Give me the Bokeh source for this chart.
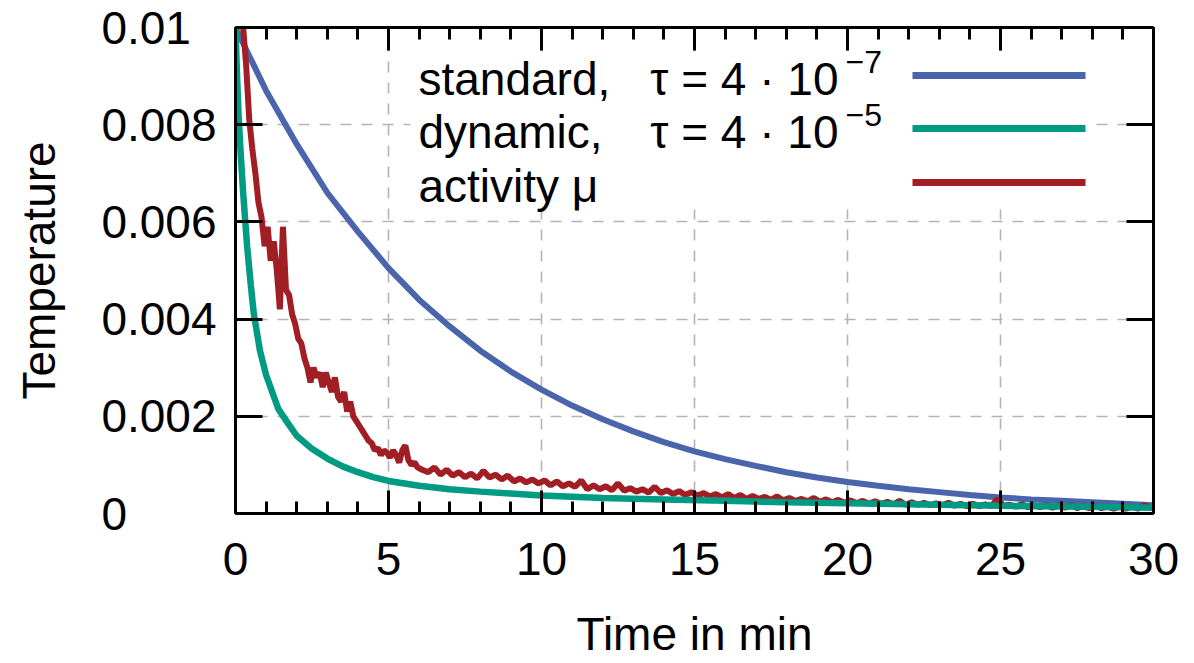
from bokeh.plotting import figure
from bokeh.models import (Range1d, LinearAxis, SingleIntervalTicker, FixedTicker,
                          Label, BoxAnnotation)
from bokeh.embed import file_html
from bokeh.resources import INLINE

# ---------------- data ----------------
std_t = list(range(31))
std_T = [10.0, 8.7, 7.6, 6.6, 5.8, 5.05, 4.4, 3.85, 3.35, 2.92, 2.55, 2.22, 1.94,
         1.69, 1.47, 1.28, 1.12, 0.98, 0.85, 0.74, 0.65, 0.57, 0.5, 0.44, 0.38,
         0.33, 0.29, 0.26, 0.23, 0.2, 0.17]

dyn_t = [0, 0.05, 0.1, 0.17, 0.25, 0.38, 0.5, 0.6, 0.8, 1.0, 1.2, 1.4, 1.7, 2.0,
         2.5, 3.0, 3.5, 4.0, 4.5, 5.0, 6.0, 7.0, 8.0, 9.0, 10.0, 12.0, 14.0, 16.0,
         18.0, 20.0, 22.0, 25.0, 28.0, 30.0]
dyn_T = [10.0, 9.0, 8.2, 7.4, 6.6, 5.5, 4.7, 4.1, 3.35, 2.85, 2.5, 2.15, 1.87,
         1.6, 1.33, 1.13, 0.97, 0.85, 0.75, 0.67, 0.57, 0.5, 0.45, 0.41, 0.37,
         0.32, 0.29, 0.26, 0.23, 0.21, 0.19, 0.16, 0.14, 0.12]

act_t = [0.25, 0.35, 0.45, 0.55, 0.65, 0.75, 0.85, 0.95, 1.05, 1.15, 1.25, 1.35,
         1.45, 1.55, 1.65, 1.75, 1.85, 1.95, 2.05, 2.15, 2.25, 2.35, 2.45, 2.55,
         2.65, 2.75, 2.85, 2.95, 3.05, 3.15, 3.25, 3.35, 3.45, 3.55, 3.65, 3.75,
         3.85, 3.95, 4.05, 4.15, 4.25, 4.35, 4.45, 4.55, 4.65, 4.75, 4.85, 4.95,
         5.05, 5.15, 5.25, 5.35, 5.45, 5.55, 5.65, 5.75, 5.85, 5.95,
         6.1, 6.3, 6.5, 6.7, 6.9, 7.1, 7.3, 7.5, 7.7, 7.9, 8.1, 8.3, 8.5, 8.7,
         8.9, 9.1, 9.3, 9.5, 9.7, 9.9, 10.1, 10.3, 10.5, 10.7, 10.9, 11.1, 11.3,
         11.5, 11.7, 11.9, 12.1, 12.3, 12.5, 12.7, 12.9, 13.1, 13.3, 13.5, 13.7,
         13.9, 14.1, 14.3, 14.5, 14.7, 14.9, 15.1, 15.3, 15.5, 15.7, 15.9, 16.1,
         16.3, 16.5, 16.7, 16.9, 17.1, 17.3, 17.5, 17.7, 17.9, 18.1, 18.3, 18.5,
         18.7, 18.9, 19.1, 19.3, 19.5, 19.7, 19.9, 20.1, 20.3, 20.5, 20.7, 20.9,
         21.1, 21.3, 21.5, 21.7, 21.9, 22.1, 22.3, 22.5, 22.7, 22.9, 23.1, 23.3,
         23.5, 23.7, 23.9, 24.1, 24.3, 24.5, 24.7, 24.9, 25.1, 25.3, 25.5, 25.7,
         25.9, 26.1, 26.3, 26.5, 26.7, 26.9, 27.1, 27.3, 27.5, 27.7, 27.9, 28.1,
         28.3, 28.5, 28.7, 28.9, 29.1, 29.3, 29.5, 29.7, 29.9, 30.0]
act_T = [10.0, 9.2, 8.1, 7.5, 7.0, 6.4, 6.1, 5.5, 5.9, 5.2, 5.6, 5.0,
         4.2, 5.9, 4.6, 4.5, 4.1, 3.9, 3.6, 3.5, 3.2, 3.0, 2.7, 3.0,
         2.8, 2.9, 2.6, 2.9, 2.7, 2.5, 2.8, 2.4, 2.3, 2.5, 2.1, 2.3,
         2.0, 1.9, 1.8, 1.7, 1.6, 1.5, 1.45, 1.3, 1.35, 1.2, 1.3, 1.25,
         1.15, 1.3, 1.2, 1.05, 1.3, 1.4, 1.1, 1.0, 1.05, 0.95,
         0.9, 0.85, 0.95, 0.8, 0.9, 0.78, 0.85, 0.75, 0.82, 0.72, 0.88, 0.74, 0.8, 0.7,
         0.78, 0.66, 0.72, 0.64, 0.7, 0.62, 0.68, 0.58, 0.66, 0.56, 0.62, 0.55, 0.68,
         0.5, 0.58, 0.5, 0.56, 0.48, 0.62, 0.47, 0.52, 0.45, 0.5, 0.43, 0.55,
         0.42, 0.48, 0.4, 0.46, 0.38, 0.44, 0.37, 0.42, 0.35, 0.4, 0.33, 0.4,
         0.32, 0.38, 0.3, 0.36, 0.3, 0.34, 0.28, 0.35, 0.27, 0.32, 0.26, 0.3,
         0.25, 0.32, 0.24, 0.29, 0.23, 0.28, 0.22, 0.27, 0.21, 0.26, 0.2, 0.25,
         0.2, 0.24, 0.19, 0.26, 0.18, 0.23, 0.18, 0.22, 0.17, 0.21, 0.17, 0.22,
         0.16, 0.2, 0.15, 0.2, 0.15, 0.19, 0.15, 0.3, 0.16, 0.18, 0.14, 0.19,
         0.13, 0.17, 0.13, 0.17, 0.12, 0.16, 0.12, 0.17, 0.11, 0.15, 0.11, 0.16,
         0.11, 0.14, 0.1, 0.15, 0.1, 0.14, 0.1, 0.17, 0.11, 0.12]
SCALE = 1e-3  # values above are in units of 1e-3

x_major = 5
y_ticks = [0, 0.002, 0.004, 0.006, 0.008, 0.01]
y_tick_labels = ["0", "0.002", "0.004", "0.006", "0.008", "0.01"]

legend_names = ["standard,", "dynamic,", "activity \u03bc"]
legend_eq = ["\u03c4 = 4 \u00b7 10", "\u03c4 = 4 \u00b7 10", None]
legend_exp = ["\u22127", "\u22125", None]
colors = ["#4a65ac", "#009b82", "#a11f24"]

FONT = "Liberation Sans"
FS = "46px"

# frame placement (pixels)
W, H = 1194, 663
B_LEFT, B_RIGHT, B_TOP, B_BOTTOM = 235, 41, 27, 150
FRAME_H = H - B_TOP - B_BOTTOM

# ---------------- figure ----------------
p = figure(width=W, height=H, output_backend="svg", toolbar_location=None,
           x_range=Range1d(0, 30), y_range=Range1d(0, 0.01),
           min_border_left=B_LEFT, min_border_right=B_RIGHT,
           min_border_top=B_TOP, min_border_bottom=B_BOTTOM)
p.outline_line_color = None
p.background_fill_color = "white"

xt = SingleIntervalTicker(interval=x_major, num_minor_ticks=5)
yt = FixedTicker(ticks=y_ticks)

p.xaxis.ticker = xt
p.yaxis.ticker = yt
p.add_layout(LinearAxis(ticker=xt), "above")
p.add_layout(LinearAxis(ticker=yt), "right")

for ax in p.axis:
    ax.axis_line_width = 3
    ax.axis_line_color = "black"
    ax.major_tick_line_width = 3
    ax.minor_tick_line_width = 3
    ax.major_tick_out = 0
    ax.minor_tick_out = 0
    ax.major_label_text_font = FONT
    ax.major_label_text_color = "black"
    ax.major_label_text_font_size = FS

for ax in [p.below[0], p.above[0]]:
    ax.major_tick_in = 23
    ax.minor_tick_in = 12
for ax in [p.left[0], p.right[0]]:
    ax.major_tick_in = 27
    ax.minor_tick_line_color = None

# mirrored axes: ticks only
for ax in [p.above[0], p.right[0]]:
    ax.major_label_text_color = None
    ax.major_label_text_font_size = "1px"
    ax.major_label_standoff = 0

# x axis
xa = p.below[0]
xa.major_label_standoff = 29
xa.axis_label = "Time in min"
xa.axis_label_text_font = FONT
xa.axis_label_text_font_size = FS
xa.axis_label_text_font_style = "normal"
xa.axis_label_text_color = "black"
xa.axis_label_standoff = 30

# y axis: labels left-aligned by padding with figure/punctuation spaces
widest = max(y_tick_labels, key=len)
def pad(lab):
    extra = ""
    for ch in widest[len(lab):]:
        extra += "\u2008" if ch == "." else "\u2007"
    return lab + extra
ya = p.left[0]
ya.major_label_overrides = {v: pad(l) for v, l in zip(y_ticks, y_tick_labels)}
ya.major_label_standoff = 19
ya.axis_label = "Temperature"
ya.axis_label_text_font = FONT
ya.axis_label_text_font_size = FS
ya.axis_label_text_font_style = "normal"
ya.axis_label_text_color = "black"
ya.axis_label_standoff = 33

for g in p.grid:
    g.grid_line_color = "#b4b4b4"
    g.grid_line_width = 1.6
    g.grid_line_dash = "11 10"

# ---------------- data lines ----------------
p.line(std_t, [v * SCALE for v in std_T], line_color=colors[0], line_width=6)
p.line(act_t, [v * SCALE for v in act_T], line_color=colors[2], line_width=6)
p.line(dyn_t, [v * SCALE for v in dyn_T], line_color=colors[1], line_width=6.5)

# ---------------- legend (gnuplot style: text left, sample right) ----------------
def sy(page_y):
    return B_TOP + FRAME_H - page_y

BASE_SHIFT = 17  # bokeh alphabetic anchor correction at 46px
p.add_layout(BoxAnnotation(left=410 - B_LEFT, right=1095 - B_LEFT,
                           bottom=sy(209), top=sy(51),
                           left_units="screen", right_units="screen",
                           top_units="screen", bottom_units="screen",
                           fill_color="white", fill_alpha=1.0, line_color=None))
row_base = [95, 148, 202]
row_line = [75, 128, 182]
for i in range(3):
    p.add_layout(Label(x=418 - B_LEFT, y=sy(row_base[i]) + BASE_SHIFT,
                       x_units="screen", y_units="screen",
                       text=legend_names[i], text_font=FONT, text_font_size=FS,
                       text_align="left", text_baseline="alphabetic",
                       text_color="black"))
    if legend_eq[i]:
        p.add_layout(Label(x=838 - B_LEFT, y=sy(row_base[i]) + BASE_SHIFT,
                           x_units="screen", y_units="screen",
                           text=legend_eq[i], text_font=FONT, text_font_size=FS,
                           text_align="right", text_baseline="alphabetic",
                           text_color="black"))
        p.add_layout(Label(x=845 - B_LEFT, y=sy(row_base[i] - 22) + 12,
                           x_units="screen", y_units="screen",
                           text=legend_exp[i], text_font=FONT,
                           text_font_size="32px", text_align="left",
                           text_baseline="alphabetic", text_color="black"))
    p.add_layout(BoxAnnotation(left=912 - B_LEFT, right=1085 - B_LEFT,
                               bottom=sy(row_line[i]) - 3.5,
                               top=sy(row_line[i]) + 3.5,
                               left_units="screen", right_units="screen",
                               top_units="screen", bottom_units="screen",
                               fill_color=colors[i], fill_alpha=1.0,
                               line_color=None))

open("out.html", "w").write(file_html(p, INLINE))
